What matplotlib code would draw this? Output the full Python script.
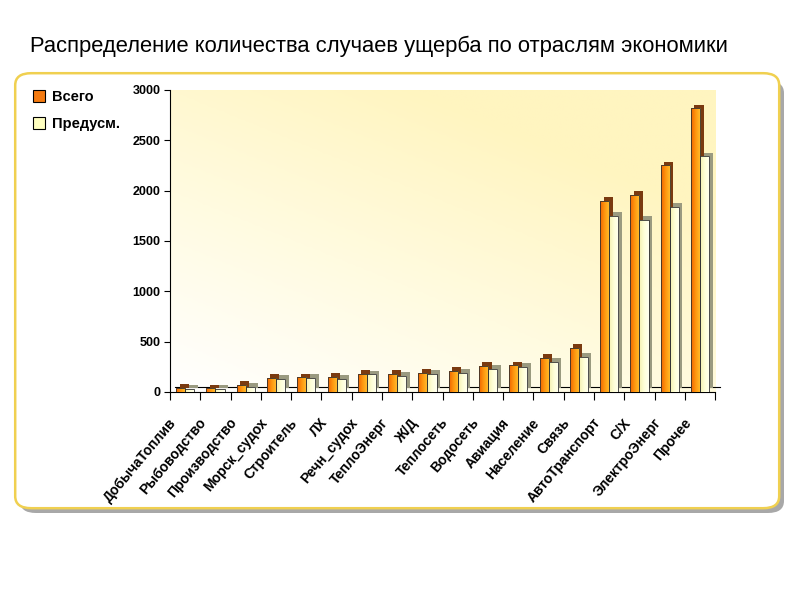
import numpy as np
import matplotlib
matplotlib.use("Agg")
import matplotlib.pyplot as plt
import matplotlib.patheffects as pe
from matplotlib.patches import FancyBboxPatch, Rectangle
from matplotlib.colors import LinearSegmentedColormap
from matplotlib.transforms import offset_copy, blended_transform_factory

plt.rcParams['font.family'] = ['Liberation Sans', 'DejaVu Sans']

# --- data ---------------------------------------------------------------
categories = ["ДобычаТоплив", "Рыбоводство", "Производство", "Морск_судох",
              "Строитель", "ЛХ", "Речн_судох", "ТеплоЭнерг", "Ж/Д",
              "Теплосеть", "Водосеть", "Авиация", "Население", "Связь",
              "АвтоТранспорт", "С/Х", "ЭлектроЭнерг", "Прочее"]
total = [40, 35, 70, 140, 145, 150, 180, 180, 190, 210, 260, 265, 340, 440,
         1900, 1960, 2250, 2820]
expected = [30, 30, 50, 130, 140, 130, 175, 160, 180, 190, 230, 250, 300, 350,
            1750, 1710, 1840, 2340]
legend_labels = ["Всего", "Предусм."]
title = "Распределение количества случаев ущерба по отраслям экономики"

# --- figure -------------------------------------------------------------
fig = plt.figure(figsize=(8, 6), dpi=100)
fig.patch.set_facecolor("white")

# rounded frame with shadow
shadow = FancyBboxPatch((0.025, 0.145), 0.955, 0.72,
                        boxstyle="round,pad=0,rounding_size=0.02",
                        transform=fig.transFigure, facecolor="#a8a8a8",
                        edgecolor="none", zorder=0)
frame = FancyBboxPatch((0.019, 0.153), 0.955, 0.725,
                       boxstyle="round,pad=0,rounding_size=0.02",
                       transform=fig.transFigure, facecolor="white",
                       edgecolor="#f0d050", linewidth=1.8, zorder=1)
fig.patches.extend([shadow, frame])

fig.text(0.038, 0.922, title, fontsize=15.8, ha="left", va="center")

ax = fig.add_axes([0.2125, 0.347, 0.6815, 0.503])
ax.set_zorder(2)
ax.patch.set_alpha(0)

x = np.arange(len(categories))
w = 0.3

# plot-area gradient background
gx, gy = np.meshgrid(np.linspace(0, 1, 200), np.linspace(0, 1, 200))
bg = np.clip(0.55 * gx + 0.75 * gy, 0, 1)
bg_cmap = LinearSegmentedColormap.from_list("bg", ["#ffffff", "#fffbe0", "#fff5c0"])
ax.imshow(bg, cmap=bg_cmap, extent=(-0.5, len(categories) - 0.5, 0, 3000),
          origin="lower", aspect="auto", zorder=0)

# bars with depth
orange_cmap = LinearSegmentedColormap.from_list("or", ["#f06400", "#ff9a10", "#ffc030"])
cream_cmap = LinearSegmentedColormap.from_list("cr", ["#f4f0b0", "#ffffd8", "#fffff0"])
grad = np.linspace(0, 1, 50).reshape(1, -1)

bars_total = ax.bar(x - w / 2, total, w, color="#ff8c00", zorder=2,
                    path_effects=[pe.SimplePatchShadow(offset=(2.5, 2.5), shadow_rgbFace="#7a3a10", alpha=1),
                                  pe.Normal()])
bars_exp = ax.bar(x + w / 2, expected, w, color="#ffffc8", zorder=2,
                  path_effects=[pe.SimplePatchShadow(offset=(2.5, 2.5), shadow_rgbFace="#9a9a80", alpha=1),
                                pe.Normal()])

for bars, cmap in [(bars_total, orange_cmap), (bars_exp, cream_cmap)]:
    for b in bars:
        im = ax.imshow(grad, cmap=cmap, aspect="auto", zorder=3,
                       extent=(b.get_x(), b.get_x() + b.get_width(), 0, b.get_height()))
        im.set_clip_path(b)
        ax.add_patch(Rectangle((b.get_x(), 0), b.get_width(), b.get_height(),
                               facecolor="none", edgecolor="#303030", linewidth=0.6, zorder=4))

# floor back line
back = offset_copy(ax.transData, fig=fig, x=5, y=5, units="dots")
ax.plot([-0.5, len(categories) - 0.5], [0, 0], color="black", lw=0.8, transform=back,
        zorder=1, clip_on=False)

ax.set_xlim(-0.5, len(categories) - 0.5)
ax.set_ylim(0, 3000)
ax.set_yticks(np.arange(0, 3001, 500))
ax.set_yticklabels([str(v) for v in range(0, 3001, 500)], fontsize=9, fontweight="bold")
ax.set_xticks([])
ax.set_xticks(np.arange(-0.5, len(categories), 1), minor=True)
ax.tick_params(axis="x", which="minor", length=6, width=0.8)
ax.tick_params(axis="y", length=4, width=0.8, pad=3)
for s in ["top", "right"]:
    ax.spines[s].set_visible(False)
ax.spines["left"].set_linewidth(0.8)
ax.spines["bottom"].set_linewidth(0.8)

# category labels, rotated below the axis
lab_trans = offset_copy(blended_transform_factory(ax.transData, ax.transAxes),
                        fig=fig, x=-17, y=-24, units="dots")
for xi, name in zip(x, categories):
    ax.text(xi, 0, name, transform=lab_trans, rotation=50, ha="right", va="top",
            rotation_mode="anchor", fontsize=10, fontweight="bold", clip_on=False)

# legend
handles = [Rectangle((0, 0), 1, 1, facecolor="#f47a10", edgecolor="black", lw=0.8),
           Rectangle((0, 0), 1, 1, facecolor="#ffffc0", edgecolor="black", lw=0.8)]
fig.legend(handles, legend_labels, loc="upper left", bbox_to_anchor=(0.025, 0.872),
           frameon=False, prop={"weight": "bold", "size": 10.5},
           handlelength=0.8, handleheight=0.9, handletextpad=0.5, labelspacing=0.9)

fig.savefig("out.png", dpi=100)
